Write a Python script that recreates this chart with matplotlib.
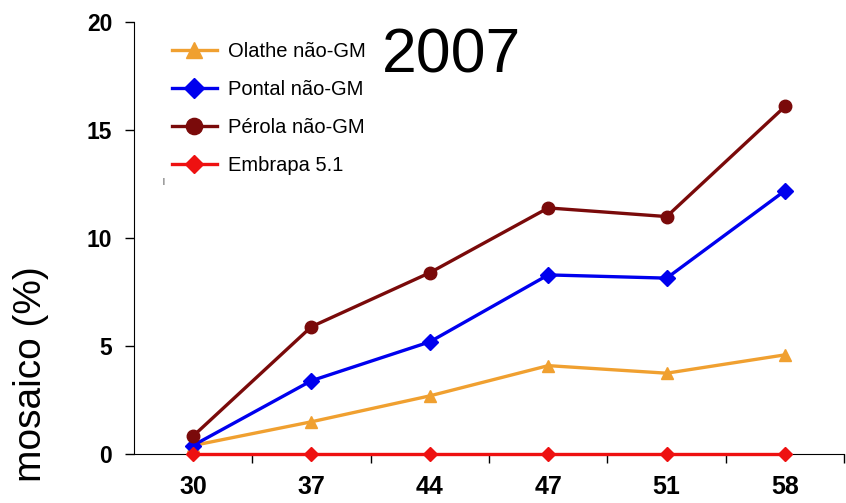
import matplotlib.pyplot as plt
from matplotlib.ticker import FixedLocator

plt.rcParams['font.family'] = ['Liberation Sans', 'DejaVu Sans']

dias = ['30', '37', '44', '47', '51', '58']
olathe = [0.4, 1.5, 2.7, 4.1, 3.75, 4.6]
pontal = [0.4, 3.4, 5.2, 8.3, 8.15, 12.2]
perola = [0.83, 5.9, 8.4, 11.4, 11.0, 16.1]
embrapa = [0, 0, 0, 0, 0, 0]

fig = plt.figure(figsize=(8.46, 5.03), dpi=100)
ax = fig.add_axes([0.158, 0.097, 0.84, 0.859])

x = range(len(dias))
ax.plot(x, olathe, color='#F0A030', lw=2.4, marker='^', ms=9, label='Olathe não-GM')
ax.plot(x, pontal, color='#0000EE', lw=2.4, marker='D', ms=8, label='Pontal não-GM')
ax.plot(x, perola, color='#7A0A0A', lw=2.4, marker='o', ms=9, label='Pérola não-GM')
ax.plot(x, embrapa, color='#EE1111', lw=2.4, marker='D', ms=7, label='Embrapa 5.1',
        clip_on=False, zorder=5)

ax.set_xlim(-0.5, len(dias) - 0.5)
ax.set_ylim(0, 20)
ax.set_yticks([0, 5, 10, 15, 20])
ax.set_xticks(list(x))
ax.set_xticklabels(dias)
ax.xaxis.set_minor_locator(FixedLocator([i + 0.5 for i in x]))
ax.tick_params(axis='x', which='major', length=0, pad=15)
ax.tick_params(axis='x', which='minor', length=6.5, width=1, direction='out')
ax.tick_params(axis='y', length=6.5, width=1, direction='out', pad=9)
for lab in ax.get_xticklabels():
    lab.set_fontweight('bold')
    lab.set_fontsize(18)
for lab in ax.get_yticklabels():
    lab.set_fontweight('bold')
    lab.set_fontsize(16.5)

ax.spines['top'].set_visible(False)
ax.spines['right'].set_visible(False)
fig.text(31 / 846, 1 - 374 / 503, 'mosaico (%)', fontsize=28, rotation=90,
         ha='center', va='center')

ax.legend(loc='upper left', bbox_to_anchor=(0.0535, 0.955), frameon=False,
          fontsize=14.5, handlelength=2.24, handletextpad=0.55, labelspacing=0.95,
          borderpad=0, borderaxespad=0, markerscale=1.3)
fig.text(0.4515, 0.855, '2007', fontsize=45, ha='left', va='baseline')
fig.text(0.193, 0.636, '|', fontsize=5, ha='center')

fig.savefig('out.png', dpi=100)
